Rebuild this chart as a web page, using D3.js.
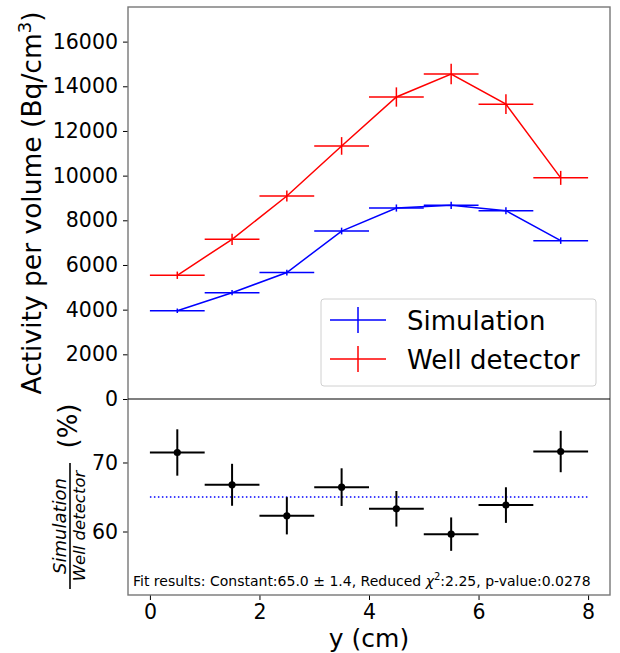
<!DOCTYPE html>
<html>
<head>
<meta charset="utf-8">
<script src="https://cdn.jsdelivr.net/npm/d3@7"></script>
<style>
  html, body { margin: 0; padding: 0; background: #fff; }
  svg { display: block; font-family: "DejaVu Sans", sans-serif; }
</style>
</head>
<body>
<svg id="chart" width="620" height="653"></svg>
<script>
// ---- data ----
const binCenters = [0.5, 1.5, 2.5, 3.5, 4.5, 5.5, 6.5, 7.5];
const binHalfWidth = 0.5;
const simValues = [3950, 4760, 5660, 7520, 8550, 8670, 8430, 7090];
const simErrors = [100, 115, 130, 150, 160, 165, 160, 145];
const wellValues = [5540, 7150, 9090, 11330, 13520, 14550, 13200, 9900];
const wellErrors = [165, 250, 245, 395, 432, 463, 439, 313];
const ratioValues = [71.45, 66.77, 62.28, 66.43, 63.29, 59.62, 63.83, 71.59];
const ratioErrors = [3.36, 3.04, 2.70, 2.73, 2.58, 2.42, 2.58, 3.00];
const fitConstant = 65.0;
const topTicks = [0, 2000, 4000, 6000, 8000, 10000, 12000, 14000, 16000];
const ratioTicks = [60, 70];
const xTicks = [0, 2, 4, 6, 8];
const seriesNames = ["Simulation", "Well detector"];
const seriesColors = ["blue", "red"];

// ---- layout ----
const svg = d3.select("#chart");
const L = 128, R = 610, T = 7, M = 399, B = 595;

const x = d3.scaleLinear().domain([-0.4, 8.4]).range([L, R]);
const yTop = d3.scaleLinear().domain([0, 17550]).range([M, T]);
const yBot = d3.scaleLinear().domain([50.8, 79.2]).range([B, M]);

const tickFont = "20.5px";

// ---- axes ----
function styleAxis(g) {
  g.select(".domain").remove();
  g.selectAll(".tick line").attr("stroke", "#000").attr("stroke-width", 1);
  g.selectAll(".tick text").attr("font-size", tickFont).attr("fill", "#000")
    .attr("font-family", "DejaVu Sans, sans-serif");
}
svg.append("g").attr("transform", `translate(${L},0)`)
  .call(d3.axisLeft(yTop).tickValues(topTicks).tickSize(5).tickPadding(5).tickFormat(d3.format("d")))
  .call(styleAxis);
svg.append("g").attr("transform", `translate(${L},0)`)
  .call(d3.axisLeft(yBot).tickValues(ratioTicks).tickSize(5).tickPadding(5).tickFormat(d3.format("d")))
  .call(styleAxis);
svg.append("g").attr("transform", `translate(0,${B})`)
  .call(d3.axisBottom(x).tickValues(xTicks).tickSize(5).tickPadding(4).tickFormat(d3.format("d")))
  .call(styleAxis);

// ---- top panel series ----
const topData = [
  {name: seriesNames[0], color: seriesColors[0], values: simValues, errors: simErrors},
  {name: seriesNames[1], color: seriesColors[1], values: wellValues, errors: wellErrors}
];
const line = d3.line().x(d => x(d[0])).y(d => yTop(d[1]));
topData.forEach(s => {
  const g = svg.append("g");
  const pts = binCenters.map((c, i) => [c, s.values[i], s.errors[i]]);
  g.append("path").datum(pts).attr("d", line).attr("fill", "none")
    .attr("stroke", s.color).attr("stroke-width", 1.5);
  g.selectAll("line.h").data(pts).join("line")
    .attr("x1", d => x(d[0] - binHalfWidth)).attr("x2", d => x(d[0] + binHalfWidth))
    .attr("y1", d => yTop(d[1])).attr("y2", d => yTop(d[1]))
    .attr("stroke", s.color).attr("stroke-width", 1.5);
  g.selectAll("line.v").data(pts).join("line")
    .attr("x1", d => x(d[0])).attr("x2", d => x(d[0]))
    .attr("y1", d => yTop(d[1] - d[2])).attr("y2", d => yTop(d[1] + d[2]))
    .attr("stroke", s.color).attr("stroke-width", 1.5);
});

// ---- bottom panel ----
svg.append("line")
  .attr("x1", x(0)).attr("x2", x(8))
  .attr("y1", yBot(fitConstant)).attr("y2", yBot(fitConstant))
  .attr("stroke", "blue").attr("stroke-width", 1.5).attr("stroke-dasharray", "1.5,2.5");
const rpts = binCenters.map((c, i) => [c, ratioValues[i], ratioErrors[i]]);
const rg = svg.append("g");
rg.selectAll("line.h").data(rpts).join("line")
  .attr("x1", d => x(d[0] - binHalfWidth)).attr("x2", d => x(d[0] + binHalfWidth))
  .attr("y1", d => yBot(d[1])).attr("y2", d => yBot(d[1]))
  .attr("stroke", "#000").attr("stroke-width", 2);
rg.selectAll("line.v").data(rpts).join("line")
  .attr("x1", d => x(d[0])).attr("x2", d => x(d[0]))
  .attr("y1", d => yBot(d[1] - d[2])).attr("y2", d => yBot(d[1] + d[2]))
  .attr("stroke", "#000").attr("stroke-width", 2);
rg.selectAll("circle").data(rpts).join("circle")
  .attr("cx", d => x(d[0])).attr("cy", d => yBot(d[1])).attr("r", 3.6).attr("fill", "#000");

// fit text
const ft = svg.append("text").attr("x", 133).attr("y", 586).attr("font-size", "14px").attr("fill", "#000");
ft.append("tspan").text("Fit results: Constant:65.0 \u00b1 1.4, Reduced ");
ft.append("tspan").attr("font-style", "italic").text("\u03c7");
ft.append("tspan").attr("font-size", "10px").attr("dy", "-6").text("2");
ft.append("tspan").attr("dy", "6").text(":2.25, p-value:0.0278");

// ---- frames ----
svg.append("rect").attr("x", L).attr("y", T).attr("width", R - L).attr("height", B - T)
  .attr("fill", "none").attr("stroke", "#777").attr("stroke-width", 1.4);
svg.append("line").attr("x1", L).attr("x2", R).attr("y1", M).attr("y2", M)
  .attr("stroke", "#000").attr("stroke-width", 1.2);

// ---- legend ----
const lg = svg.append("g");
lg.append("rect").attr("x", 321).attr("y", 299).attr("width", 275).attr("height", 87)
  .attr("rx", 3).attr("fill", "#fff").attr("fill-opacity", 0.8)
  .attr("stroke", "#d0d0d0").attr("stroke-width", 1);
topData.forEach((s, i) => {
  const yy = 320 + i * 39;
  lg.append("line").attr("x1", 330).attr("x2", 386).attr("y1", yy).attr("y2", yy)
    .attr("stroke", s.color).attr("stroke-width", 1.5);
  lg.append("line").attr("x1", 358).attr("x2", 358).attr("y1", yy - 13).attr("y2", yy + 13)
    .attr("stroke", s.color).attr("stroke-width", 1.5);
  lg.append("text").attr("x", 407).attr("y", yy + 10).attr("font-size", "26px").attr("fill", "#000").text(s.name);
});

// ---- axis labels ----
const yl = svg.append("text").attr("transform", `translate(41,${(T + M) / 2}) rotate(-90)`)
  .attr("text-anchor", "middle").attr("font-size", "26.5px").attr("fill", "#000");
yl.append("tspan").text("Activity per volume (Bq/cm");
yl.append("tspan").attr("font-size", "18px").attr("dy", "-10").text("3");
yl.append("tspan").attr("dy", "10").text(")");

svg.append("text").attr("x", (L + R) / 2).attr("y", 647).attr("text-anchor", "middle")
  .attr("font-size", "25px").attr("fill", "#000").text("y (cm)");

// fraction label
const fg = svg.append("g").attr("transform", "translate(70,526) rotate(-90)");
fg.append("line").attr("x1", -63).attr("x2", 63).attr("y1", 0).attr("y2", 0)
  .attr("stroke", "#000").attr("stroke-width", 1.6);
fg.append("text").attr("x", 0).attr("y", -4).attr("text-anchor", "middle")
  .attr("font-size", "18px").attr("font-style", "italic").attr("fill", "#000").text("Simulation");
fg.append("text").attr("x", 0).attr("y", 15).attr("text-anchor", "middle")
  .attr("font-size", "16.5px").attr("font-style", "italic").attr("fill", "#000").text("Well detector");
fg.append("text").attr("x", 100).attr("y", 7).attr("text-anchor", "middle")
  .attr("font-size", "26px").attr("fill", "#000").text("(%)");
</script>
</body>
</html>
